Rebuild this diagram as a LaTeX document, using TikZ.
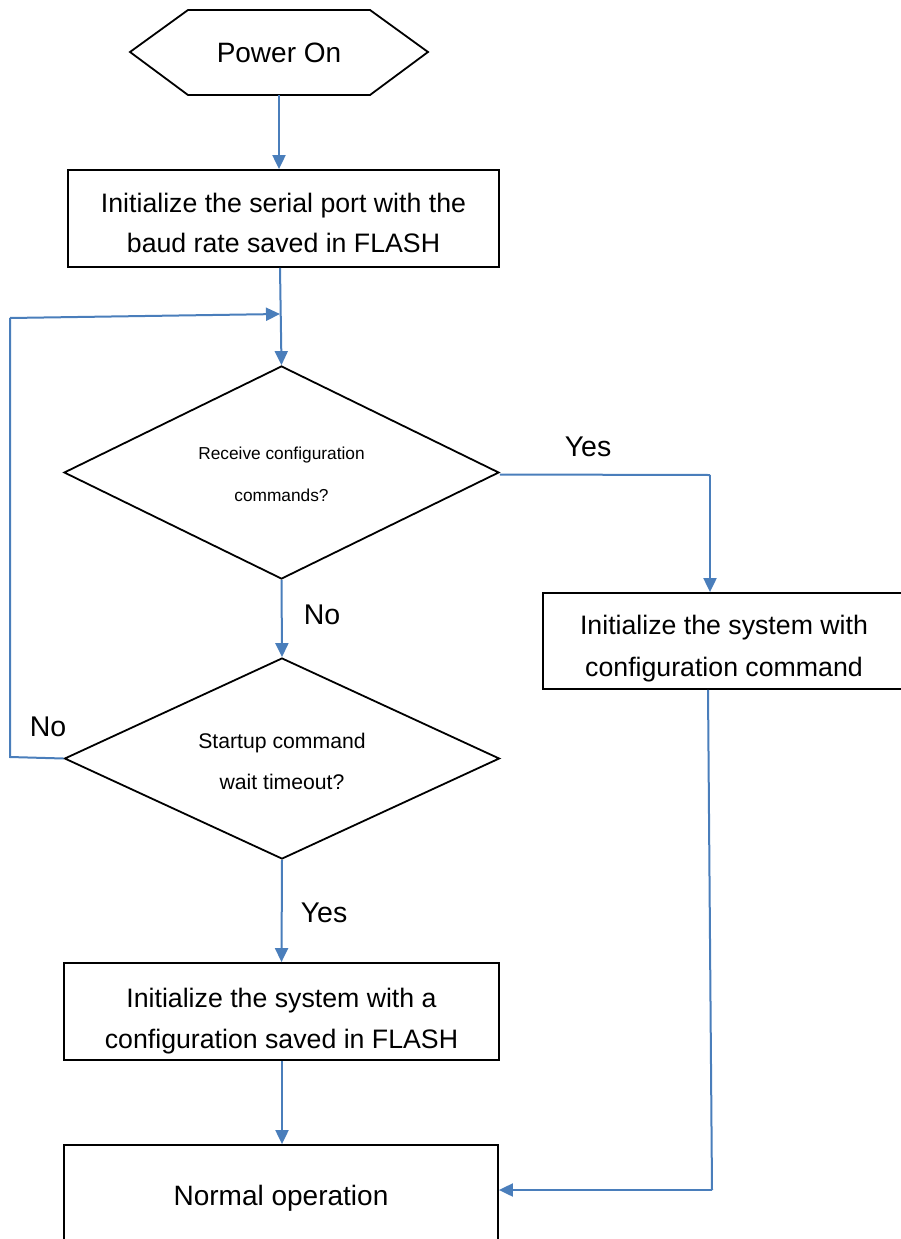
\documentclass[tikz,border=0pt]{standalone}
\usepackage{fontspec}
\setmainfont{Liberation Sans}
\usetikzlibrary{arrows.meta,shapes.geometric}
\definecolor{flowblue}{RGB}{74,126,187}
\begin{document}
\begin{tikzpicture}[x=1pt,y=-1pt,
  box/.style={draw=black,line width=1.8pt,inner sep=0pt},
  dia/.style={draw=black,line width=1.8pt,shape=diamond,inner sep=0pt},
  txt/.style={inner sep=0pt,align=center},
  flow/.style={draw=flowblue,line width=2pt,-{Triangle[length=14pt,width=13pt]}},
  link/.style={draw=flowblue,line width=2pt},
  lbl/.style={inner sep=0pt,font=\fontsize{28.5}{30}\selectfont}]
\useasboundingbox (0,0) rectangle (900,1239);
% Power On hexagon
\draw[black,line width=1.8pt] (130,52) -- (188,10) -- (370,10) -- (428,52) -- (370,95) -- (188,95) -- cycle;
\node[inner sep=0pt,minimum width=182pt,minimum height=85pt,font=\fontsize{28}{30}\selectfont] (power) at (279,52.5) {Power On};
% shapes
\node[box,minimum width=431pt,minimum height=97pt] (init) at (283.5,218.5) {};
\node[dia,minimum width=435pt,minimum height=213pt] (d1) at (281.5,472.5) {};
\node[box,minimum width=362pt,minimum height=96pt] (cfg) at (724,641) {};
\node[dia,minimum width=435pt,minimum height=201pt] (d2) at (282,758.5) {};
\node[box,minimum width=435pt,minimum height=97pt] (flash) at (281.5,1011.5) {};
\node[box,minimum width=434pt,minimum height=110pt] (normal) at (281,1200) {};
% texts
\node[txt,font=\fontsize{26.7}{40}\selectfont] (initT) at ([yshift=-4pt]init.center) {Initialize the serial port with the\\baud rate saved in FLASH};
\node[txt,font=\fontsize{17.3}{42}\selectfont] (d1T) at ([yshift=-2pt]d1.center) {Receive configuration\\commands?};
\node[txt,font=\fontsize{26.7}{42}\selectfont] (cfgT) at ([yshift=-8pt]cfg.center) {Initialize the system with\\configuration command};
\node[txt,font=\fontsize{21.2}{41}\selectfont] (d2T) at ([yshift=-3pt]d2.center) {Startup command\\wait timeout?};
\node[txt,font=\fontsize{26.7}{41}\selectfont] (flashT) at ([yshift=-9.5pt]flash.center) {Initialize the system with a\\configuration saved in FLASH};
\node[txt,font=\fontsize{28}{30}\selectfont] (normalT) at ([yshift=2pt]normal.center) {Normal operation};
% helper coordinates
\coordinate (merge) at (280,314);
\coordinate (loopTL) at (10,318);
\coordinate (loopBL) at (10,757);
\coordinate (yesTurn) at (710,475);
\coordinate (rightDown) at (712,1190);
% connectors
\draw[flow] (power.south) -- (power.south |- init.north);
\draw[flow] (merge |- init.south) -- (d1.north);
\draw[link] (d2.west) -- (loopBL) -- (loopTL);
\draw[flow] (loopTL) -- (merge);
\draw[link] ([yshift=-2pt]d1.east) -- (yesTurn);
\draw[flow] (yesTurn) -- (yesTurn |- cfg.north);
\draw[flow] (d1.south) -- (d2.north);
\draw[flow] (d2.south) -- (flash.north);
\draw[flow] ([xshift=0.5pt]flash.south) -- ([xshift=1pt]normal.north);
\draw[link] (708,0 |- cfg.south) -- (rightDown);
\draw[flow] (rightDown) -- (normal.east |- rightDown);
% labels
\node[lbl] (lyes1) at (588,447) {Yes};
\node[lbl] (lno1) at (322,615) {No};
\node[lbl] (lno2) at (48,727) {No};
\node[lbl] (lyes2) at (324,913) {Yes};
\end{tikzpicture}
\end{document}
